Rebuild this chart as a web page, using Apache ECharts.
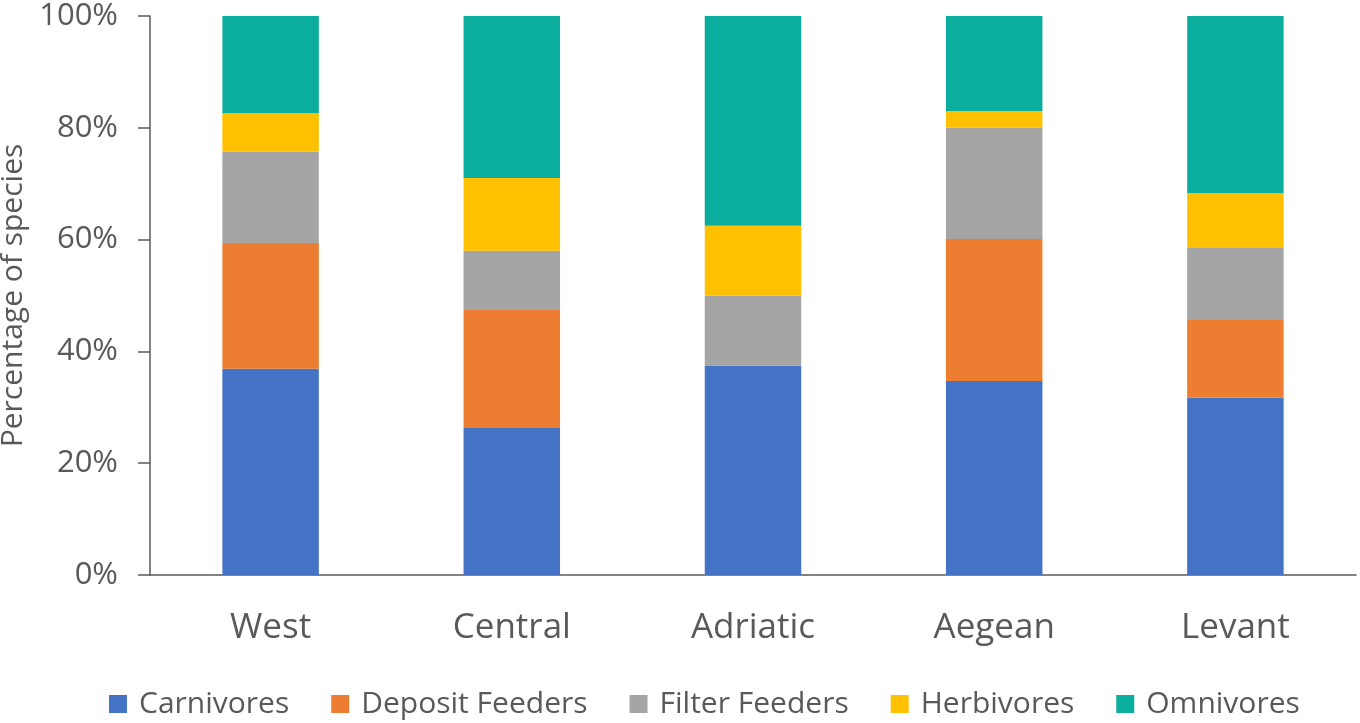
<!DOCTYPE html>
<html>
<head>
<meta charset="utf-8">
<script src="https://cdn.jsdelivr.net/npm/echarts@6/dist/echarts.min.js"></script>
<style>
  html, body { margin: 0; padding: 0; background: #fff; }
  #chart { width: 1360px; height: 723px; }
</style>
</head>
<body>
<div id="chart"></div>
<script>
// regions along the x axis
const regions = ['West', 'Central', 'Adriatic', 'Aegean', 'Levant']

// percentage of species per feeding group
const carnivores     = [36.9, 26.3, 37.5, 34.7, 31.7]
const depositFeeders = [22.5, 21.1, 0.0, 25.4, 13.9]
const filterFeeders  = [16.3, 10.6, 12.5, 19.9, 12.9]
const herbivores     = [6.9, 13.0, 12.5, 3.0, 9.8]
const omnivores      = [17.4, 29.0, 37.5, 17.0, 31.7]

const yTicks = [0, 20, 40, 60, 80, 100]

const groups = [
    { name: 'Carnivores', data: carnivores, color: '#4472C4' },
    { name: 'Deposit Feeders', data: depositFeeders, color: '#ED7D31' },
    { name: 'Filter Feeders', data: filterFeeders, color: '#A5A5A5' },
    { name: 'Herbivores', data: herbivores, color: '#FFC000' },
    { name: 'Omnivores', data: omnivores, color: '#0BAE9E' }
]

const font = '"Open Sans", "Noto Sans", sans-serif'
const textColor = '#595959'

const chart = echarts.init(document.getElementById('chart'))

chart.setOption({
    animation: false,
    textStyle: { fontFamily: font },
    grid: { left: 150, right: 4, top: 16, bottom: 148, containLabel: false, outerBoundsMode: 'none' },
    legend: {
        left: 104,
        top: 684,
        itemWidth: 18,
        itemHeight: 18,
        itemGap: 42,
        icon: 'rect',
        textStyle: { fontFamily: font, fontSize: 30, color: textColor, padding: [0, 0, 0, 7] },
        data: groups.map(g => g.name)
    },
    xAxis: {
        type: 'category',
        data: regions,
        axisLine: { show: true, lineStyle: { color: '#595959', width: 1.5 } },
        axisTick: { show: false },
        axisLabel: { fontSize: 35, color: textColor, margin: 36, fontFamily: font }
    },
    yAxis: {
        type: 'value',
        min: yTicks[0],
        max: yTicks[yTicks.length - 1],
        interval: yTicks[1] - yTicks[0],
        name: 'Percentage of species',
        nameLocation: 'middle',
        nameGap: 118,
        nameTextStyle: { fontSize: 30, color: textColor, fontFamily: font },
        axisLine: { show: true, lineStyle: { color: '#595959', width: 1.5 } },
        axisTick: { show: true, inside: false, length: 12, lineStyle: { color: '#595959', width: 1.5 } },
        splitLine: { show: false },
        axisLabel: { fontSize: 31, color: textColor, margin: 32, formatter: '{value}%', fontFamily: font }
    },
    series: groups.map(g => ({
        name: g.name,
        type: 'bar',
        stack: 'total',
        barWidth: '40%',
        data: g.data,
        itemStyle: { color: g.color }
    }))
})
</script>
</body>
</html>
